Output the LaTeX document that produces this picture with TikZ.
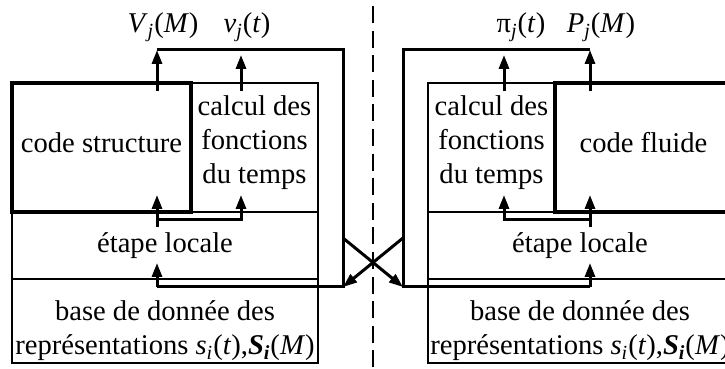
\documentclass[tikz,border=0pt]{standalone}
\usepackage{fontspec}
\setmainfont{Liberation Serif}
\usepackage{tikz}
\usetikzlibrary{arrows.meta, positioning}

\begin{document}
\begin{tikzpicture}[x=0.5pt, y=-0.5pt, >={Triangle[length=7pt, width=5pt]}, font=\fontsize{14.3}{17}\selectfont]
      \tikzstyle{blk} = [rectangle, draw, line width=0.7pt, inner sep=0pt, minimum height=64.5pt]
      \tikzstyle{codebox} = [blk, line width=2pt]
      \tikzstyle{txt} = [inner sep=0pt, align=center]
      \tikzstyle{lbl} = [anchor=base, inner sep=0pt]
      \tikzstyle{wire} = [line width=1.5pt]

      \useasboundingbox (0,0) rectangle (725,369);

      % Separation
      \coordinate (sepT) at (373,6);
      \coordinate (sepB) at (373,369);
      \draw[line width=1.1pt, dash pattern=on 8.5pt off 3.8pt] (sepT) -- (sepB);

      % Structure
      \node (etL) [blk, minimum width=153pt, minimum height=33.5pt] at (165,245.5) {};
      \node (bdL) [blk, minimum width=153pt, minimum height=42pt] at (165,321) {};
      \node (calL) [blk, minimum width=63.5pt] at (254.5,147.5) {};
      \node (cs) [codebox, minimum width=89.5pt] at (101.5,147.5) {};
      \node (csT) [txt] at ([yshift=2.5pt]cs.center) {code structure};
      \node (calLT) [txt] at ([yshift=2.5pt]calL.center) {calcul des\\fonctions\\du temps};
      \node (etLT) [txt] at (etL.center) {étape locale};
      \node (bdLT) [txt] at ([yshift=-5pt]bdL.center) {base de donnée des\\représentations \textit{s}\textsubscript{\textit{i}}(\textit{t}),\textbf{\textit{S}}\textsubscript{\textbf{\textit{i}}}(\textit{M})};

      % Fluide
      \node (etR) [blk, minimum width=152pt, minimum height=33.5pt] at (580,245.5) {};
      \node (bdR) [blk, minimum width=152pt, minimum height=42pt] at (580,321) {};
      \node (calR) [blk, minimum width=63.5pt] at (491.5,147.5) {};
      \node (cf) [codebox, minimum width=88.5pt] at (643.5,147.5) {};
      \node (cfT) [txt] at ([yshift=2.5pt]cf.center) {code fluide};
      \node (calRT) [txt] at ([yshift=2.5pt]calR.center) {calcul des\\fonctions\\du temps};
      \node (etRT) [txt] at (etR.center) {étape locale};
      \node (bdRT) [txt] at ([yshift=-5pt]bdR.center) {base de donnée des\\représentations \textit{s}\textsubscript{\textit{i}}(\textit{t}),\textbf{\textit{S}}\textsubscript{\textbf{\textit{i}}}(\textit{M})};

      % Labels
      \node (lV) [lbl] at (163,33) {\textit{V}\textsubscript{\textit{j}}(\textit{M})};
      \node (lv) [lbl] at (247,33) {\textit{v}\textsubscript{\textit{j}}(\textit{t})};
      \node (lpi) [lbl] at (521,33) {π\textsubscript{\textit{j}}(\textit{t})};
      \node (lP) [lbl] at (601,33) {\textit{P}\textsubscript{\textit{j}}(\textit{M})};

      % Points, structure side
      \coordinate (wL0) at (157,50);
      \coordinate (wL1) at (343,50);
      \coordinate (wL2) at (343,287);
      \coordinate (wL3) at (157,287);
      \coordinate (xL) at (343,238);
      \coordinate (oV) at (157,91);
      \coordinate (ov) at (241,91);
      \coordinate (tv) at (241,55);
      \coordinate (iEL) at (157,263);
      \coordinate (oEL) at (157,227);
      \coordinate (jL) at (157,220);
      \coordinate (iS) at (157,195);
      \coordinate (iCL) at (241,195);

      % Points, fluide side
      \coordinate (wR0) at (590,50);
      \coordinate (wR1) at (403,50);
      \coordinate (wR2) at (403,287);
      \coordinate (wR3) at (590,287);
      \coordinate (xR) at (403,238);
      \coordinate (oP) at (590,91);
      \coordinate (opi) at (504,91);
      \coordinate (tpi) at (504,55);
      \coordinate (iER) at (590,263);
      \coordinate (oER) at (590,227);
      \coordinate (jR) at (590,220);
      \coordinate (iF) at (590,195);
      \coordinate (iCR) at (504,195);

      % Connections
      \draw[wire] (wL0) -- (wL1) -- (wL2) -- (wL3);
      \draw[wire, ->] (oV) -- (wL0);
      \draw[wire, ->] (ov) -- (tv);
      \draw[wire, ->] (wL3) -- (iEL);
      \draw[wire, ->] (oEL) -- (iS);
      \draw[wire, ->] (jL) -| (iCL);

      \draw[wire] (wR0) -- (wR1) -- (wR2) -- (wR3);
      \draw[wire, ->] (oP) -- (wR0);
      \draw[wire, ->] (opi) -- (tpi);
      \draw[wire, ->] (wR3) -- (iER);
      \draw[wire, ->] (oER) -- (iF);
      \draw[wire, ->] (jR) -| (iCR);

      % Exchange
      \draw[wire, ->] (xL) -- (wR2);
      \draw[wire, ->] (xR) -- (wL2);
    \end{tikzpicture}
\end{document}
